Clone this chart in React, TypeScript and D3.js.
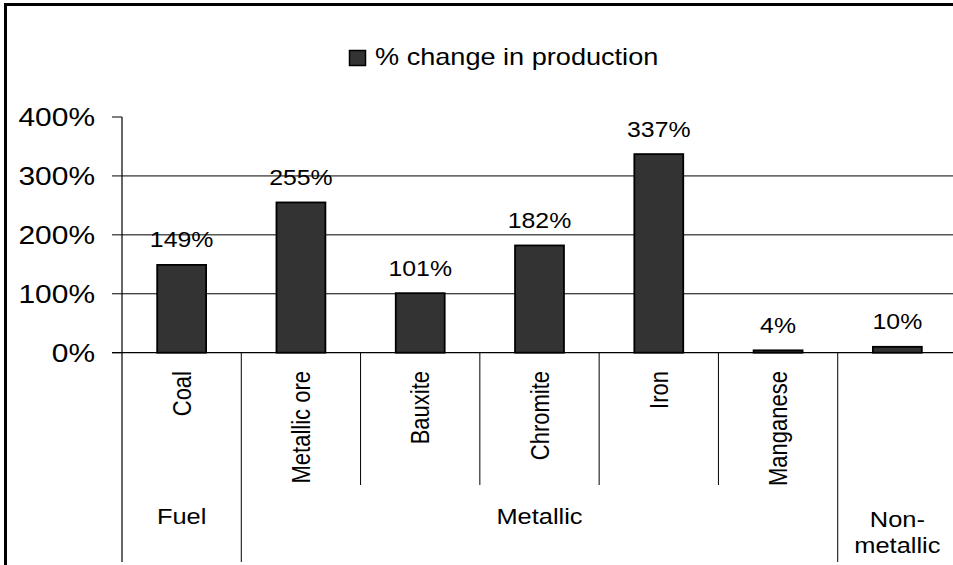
import * as d3 from "d3";

const categories = ["Coal", "Metallic ore", "Bauxite", "Chromite", "Iron", "Manganese", "Non-metallic"];
const values = [149, 255, 101, 182, 337, 4, 10];
const groups = [
  { name: ["Fuel"], from: 0, to: 1 },
  { name: ["Metallic"], from: 1, to: 6 },
  { name: ["Non-", "metallic"], from: 6, to: 7 },
];
const yTicks = [0, 100, 200, 300, 400];
const seriesName = "% change in production";

const FONT = "'Liberation Sans', Arial, Helvetica, sans-serif";
const SX = 1.13; // the picture is a bit wider than tall

function Label({ x, y, size, anchor = "middle", rotate = 0, dy = 0, children }: any) {
  return (
    <g transform={`translate(${x},${y}) scale(${SX},1)${rotate ? ` rotate(${rotate})` : ""}`}>
      <text y={dy} fontSize={size} textAnchor={anchor} fill="#000" fontFamily={FONT}>
        {children}
      </text>
    </g>
  );
}

export default function App() {
  const width = 953;
  const height = 565;
  const left = 122;
  const right = 957;
  const top = 117;
  const base = 352.7;

  const x = d3.scaleBand<string>().domain(categories).range([left, right]).padding(0);
  const y = d3.scaleLinear().domain([0, 400]).range([base, top]);
  const bw = x.bandwidth() * 0.41;
  const groupEdges = new Set(groups.map((g) => g.from).concat([categories.length]));

  return (
    <svg width={width} height={height} style={{ position: "absolute", left: 0, top: 0 }}>
      <rect x={0} y={0} width={width} height={height} fill="#fff" />
      <rect x={5.5} y={4.5} width={1000} height={700} fill="none" stroke="#000" strokeWidth={3} />

      {/* legend */}
      <rect x={349.5} y={50.5} width={16} height={15} fill="#333" stroke="#000" strokeWidth={1.5} />
      <Label x={375} y={65} size={24} anchor="start">{seriesName}</Label>

      {/* gridlines */}
      {yTicks.filter((t) => t > 0 && t < 400).map((t) => (
        <line key={t} x1={left} x2={right} y1={y(t)} y2={y(t)} stroke="#000" strokeWidth={1} />
      ))}

      {/* y axis */}
      <line x1={left} x2={left} y1={top} y2={562} stroke="#000" strokeWidth={1.2} />
      {yTicks.map((t) => (
        <g key={t}>
          <line x1={112} x2={left} y1={y(t)} y2={y(t)} stroke="#000" strokeWidth={1} />
          <Label x={95} y={y(t) + 9} size={26.5} anchor="end">{`${t}%`}</Label>
        </g>
      ))}

      {/* bars */}
      {categories.map((c, i) => {
        const cx = (x(c) as number) + x.bandwidth() / 2;
        return (
          <g key={c}>
            <rect
              x={cx - bw / 2}
              y={y(values[i])}
              width={bw}
              height={base - y(values[i])}
              fill="#333"
              stroke="#000"
              strokeWidth={1.8}
            />
            <Label x={cx} y={y(values[i]) - 17.5} size={22}>{`${values[i]}%`}</Label>
          </g>
        );
      })}

      {/* x axis */}
      <line x1={112} x2={right} y1={base} y2={base} stroke="#000" strokeWidth={1.2} />

      {/* category dividers */}
      {categories.slice(1).map((c, i) => (
        <line
          key={c}
          x1={x(c) as number}
          x2={x(c) as number}
          y1={base}
          y2={groupEdges.has(i + 1) ? 562 : 485}
          stroke="#000"
          strokeWidth={1}
        />
      ))}

      {/* category labels */}
      {categories.slice(0, 6).map((c) => (
        <Label key={c} x={(x(c) as number) + x.bandwidth() / 2} y={371} size={22} anchor="end" rotate={-90} dy={8}>
          {c}
        </Label>
      ))}

      {/* group labels */}
      {groups.map((g) => {
        const x0 = x(categories[g.from]) as number;
        const x1 = g.to < categories.length ? (x(categories[g.to]) as number) : right;
        const cx = (x0 + x1) / 2;
        const n = g.name.length;
        return g.name.map((line, j) => (
          <Label key={line} x={cx} y={524 + (j - (n - 1)) * 26 + (n - 1) * 29} size={22.5}>
            {line}
          </Label>
        ));
      })}
    </svg>
  );
}
